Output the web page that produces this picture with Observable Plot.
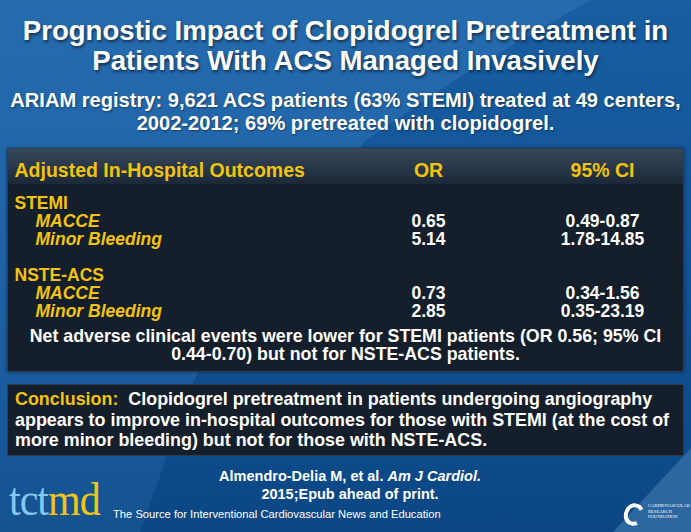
<!DOCTYPE html>
<html><head><meta charset="utf-8">
<script src="https://cdn.jsdelivr.net/npm/d3@7"></script>
<script src="https://cdn.jsdelivr.net/npm/@observablehq/plot@0.6"></script>
<style>
html,body{margin:0;padding:0;background:#0f4f8f;}
body{width:691px;height:532px;overflow:hidden;font-family:"Liberation Sans",Arial,sans-serif;}
#slide{position:relative;width:691px;height:532px;overflow:hidden;background:linear-gradient(180deg,#185ea1 0%,#115497 45%,#0c4784 100%);}
#swoosh{position:absolute;left:0;top:0;width:691px;height:532px;background:linear-gradient(180deg,#256bae 0%,#1f63a7 50%,#14528f 100%);clip-path:polygon(0 0,590px 0,470px 70px,366px 140px,262px 260px,194px 380px,140px 532px,0 532px);}
#corner{position:absolute;left:0;top:0;width:691px;height:532px;background:#2d67a0;clip-path:polygon(691px 448px,691px 532px,613px 532px);}
#title{position:absolute;left:0;top:16px;width:691px;text-align:center;color:#fff;font-weight:bold;font-size:27.6px;line-height:30px;text-shadow:1px 2px 3px rgba(0,0,0,0.55);}
#subtitle{position:absolute;left:0;top:89px;width:691px;text-align:center;color:#fff;font-weight:bold;font-size:20.1px;line-height:23px;text-shadow:1px 1px 2px rgba(0,0,0,0.4);white-space:nowrap;}
#tbl{position:absolute;left:7px;top:148px;width:677px;height:224px;box-sizing:border-box;background:#151f2b;border:1px solid #2e3d4d;box-shadow:0 0 3px rgba(0,0,0,0.5);}
#band{position:absolute;left:0;top:0;width:100%;height:35px;background:linear-gradient(180deg,#36485c 0%,#25344500 100%),#1c2837;}
#plotwrap{position:absolute;left:0;top:0;}
#note{position:absolute;left:0;top:178px;width:100%;text-align:center;color:#fff;font-weight:bold;font-size:17.8px;line-height:18px;white-space:nowrap;}
#concl{position:absolute;left:7px;top:384px;width:677px;height:72px;box-sizing:border-box;background:#151f2b;border:1px solid #2e3d4d;padding:4px 0 0 7px;color:#fff;font-weight:bold;font-size:17.9px;line-height:20.5px;white-space:nowrap;}
#concl .lbl{color:#f2c40f;}
#cite{position:absolute;left:150px;top:467px;width:400px;text-align:center;color:#fff;font-weight:bold;font-size:14.5px;line-height:18px;}
#logo{position:absolute;left:9px;top:480px;font-family:"Liberation Serif","DejaVu Serif",serif;font-size:42px;line-height:44px;letter-spacing:-1px;transform:scale(1,1.12);transform-origin:left bottom;}
#logo .a{color:#86c6f0;}
#logo .b{color:#f2c419;}
#source{position:absolute;left:113px;top:508px;color:#fff;font-size:11.2px;line-height:12px;white-space:nowrap;}
#crf{position:absolute;left:624px;top:500px;width:66px;height:30px;}
#ring{position:absolute;left:0;top:3px;width:12px;height:15px;border:4px solid #fff;border-radius:50%;border-right-color:transparent;transform:rotate(20deg);}
#crftxt{position:absolute;left:24px;top:3px;color:#fff;font-family:"Liberation Serif",serif;font-size:4.6px;line-height:5.6px;white-space:nowrap;}
</style></head>
<body>
<div id="slide">
  <div id="swoosh"></div>
  <div id="corner"></div>
  <div id="title">Prognostic Impact of Clopidogrel Pretreatment in<br>Patients With ACS Managed Invasively</div>
  <div id="subtitle">ARIAM registry: 9,621 ACS patients (63% STEMI) treated at 49 centers,<br>2002-2012; 69% pretreated with clopidogrel.</div>
  <div id="tbl">
    <div id="band"></div>
    <div id="plotwrap"></div>
    <div id="note">Net adverse clinical events were lower for STEMI patients (OR 0.56; 95% CI<br>0.44-0.70) but not for NSTE-ACS patients.</div>
  </div>
  <div id="concl"><span class="lbl">Conclusion:</span>&nbsp; Clopidogrel pretreatment in patients undergoing angiography<br>appears to improve in-hospital outcomes for those with STEMI (at the cost of<br>more minor bleeding) but not for those with NSTE-ACS.</div>
  <div id="cite">Almendro-Delia M, et al. <i>Am J Cardiol.</i><br>2015;Epub ahead of print.</div>
  <div id="logo"><span class="a">tct</span><span class="b">md</span></div>
  <div id="source">The Source for Interventional Cardiovascular News and Education</div>
  <div id="crf"><div id="ring"></div><div id="crftxt">CARDIOVASCULAR<br>RESEARCH<br>FOUNDATION</div></div>
</div>
<script>
// ---- data ----
const headerLabel = "Adjusted In-Hospital Outcomes";
const columns = ["OR", "95% CI"];
const groups = ["STEMI", "NSTE-ACS"];
const outcomes = ["MACCE", "Minor Bleeding"];
const orValues = [0.65, 5.14, 0.73, 2.85];
const ciLow = [0.49, 1.78, 0.34, 0.35];
const ciHigh = [0.87, 14.85, 1.56, 23.19];

const gold = "#f2c40f";
const groupRows = [], outcomeRows = [], cells = [], yDomain = [];
let k = 0;
groups.forEach((g, gi) => {
  if (gi > 0) yDomain.push("gap" + gi);
  yDomain.push(g);
  groupRows.push({id: g, label: g});
  outcomes.forEach(o => {
    const id = g + "|" + o;
    yDomain.push(id);
    outcomeRows.push({id, label: o});
    cells.push({row: id, col: columns[0], text: orValues[k].toFixed(2)});
    cells.push({row: id, col: columns[1], text: ciLow[k].toFixed(2) + "-" + ciHigh[k].toFixed(2)});
    k++;
  });
});

const chart = Plot.plot({
  width: 675,
  height: 176,
  marginTop: 51,
  marginBottom: 12,
  marginLeft: 6,
  marginRight: 0,
  style: {background: "transparent", overflow: "visible", fontFamily: "Liberation Sans, Arial, sans-serif"},
  x: {type: "point", domain: columns, range: [420, 594], padding: 0, axis: null},
  y: {type: "point", domain: yDomain, padding: 0, axis: null},
  marks: [
    Plot.text([headerLabel], {text: d => d, frameAnchor: "top-left", textAnchor: "start", lineAnchor: "middle", dy: -30, fill: gold, fontWeight: "bold", fontSize: 19.5}),
    Plot.text(columns, {x: d => d, text: d => d, frameAnchor: "top", lineAnchor: "middle", dy: -30, fill: gold, fontWeight: "bold", fontSize: 19.5}),
    Plot.text(groupRows, {y: "id", text: "label", frameAnchor: "left", textAnchor: "start", fill: gold, fontWeight: "bold", fontSize: 17.5}),
    Plot.text(outcomeRows, {y: "id", text: "label", frameAnchor: "left", textAnchor: "start", dx: 21, fill: gold, fontWeight: "bold", fontStyle: "italic", fontSize: 17.5}),
    Plot.text(cells, {x: "col", y: "row", text: "text", fill: "#fff", fontWeight: "bold", fontSize: 17.5})
  ]
});
document.getElementById("plotwrap").appendChild(chart);
</script>
</body></html>
